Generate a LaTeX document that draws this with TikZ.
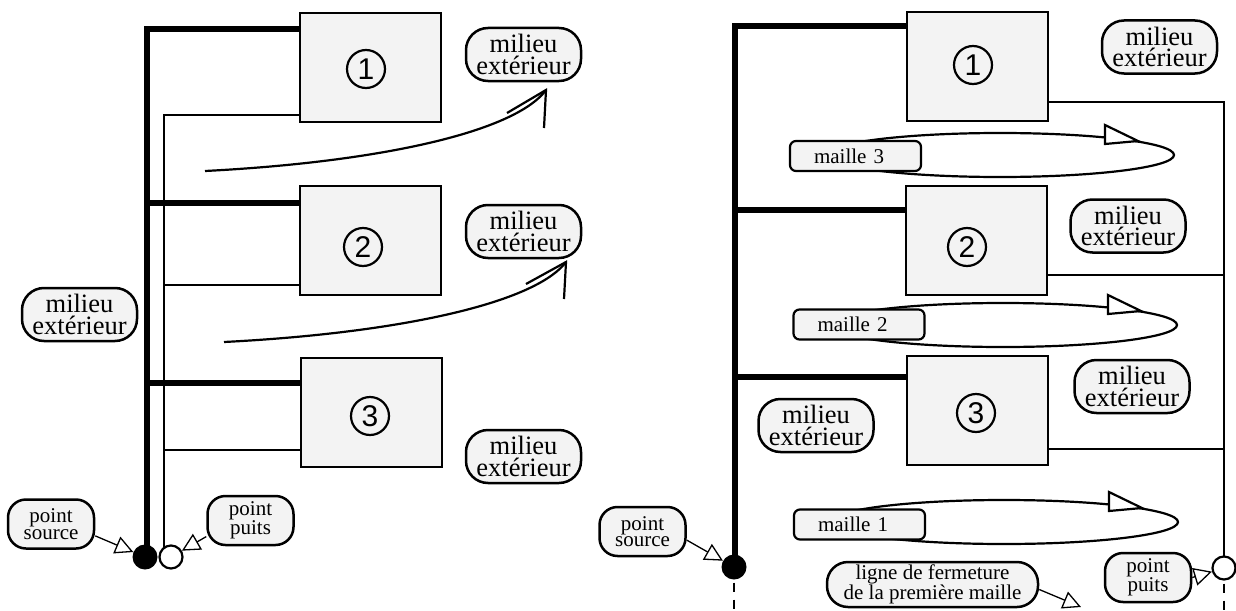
\documentclass[tikz,border=0pt]{standalone}
\usepackage{fontspec}
\setmainfont{Liberation Serif}
\newfontfamily\digitfont{Liberation Sans}
\usetikzlibrary{arrows.meta,backgrounds}
\definecolor{boxfill}{RGB}{243,243,243}
\begin{document}
\begin{tikzpicture}[x=1pt,y=-1pt,
 blk/.style={draw,line width=2.5pt,fill=boxfill,minimum width=141pt,minimum height=109pt,inner sep=0pt,outer sep=0pt,anchor=north west},
 num/.style={circle,draw,line width=2.2pt,minimum size=38pt,inner sep=0pt,font=\digitfont\fontsize{30}{30}\selectfont},
 env/.style={draw,line width=2.5pt,fill=boxfill,rounded corners=22pt,minimum width=115pt,minimum height=53pt,inner sep=0pt,align=center,font=\fontsize{26.5}{21.5}\selectfont},
 ptl/.style={draw,line width=2.5pt,fill=boxfill,rounded corners=18pt,minimum width=86pt,minimum height=49pt,inner sep=0pt,align=center,font=\fontsize{21}{16.5}\selectfont},
 mesh/.style={draw,line width=2.2pt,fill=boxfill,rounded corners=6pt,minimum height=30pt,inner xsep=24pt,inner ysep=0pt,text width=83pt,align=left,font=\fontsize{21}{21}\selectfont},
 srcdot/.style={circle,fill=black,minimum size=25pt,inner sep=0pt},
 snkdot/.style={circle,draw,fill=white,line width=2.2pt,minimum size=23pt,inner sep=0pt},
 heavy/.style={line width=5.5pt},
 light/.style={line width=2.2pt},
 ptr/.style={line width=1.3pt,-{Triangle[fill=white,length=18pt,width=18pt]}},
 curv/.style={line width=2.2pt},
 loopln/.style={line width=2.2pt},
 tri/.style={line width=2.2pt,fill=white,line join=miter},
 dsh/.style={line width=1.3pt,dash pattern=on 9pt off 8pt,dash phase=14pt}
]
\useasboundingbox (0,0) rectangle (1236,610);

% ---------------- left panel ----------------
\node[blk] (a1) at (300,13) {};
\node[blk] (a2) at (300,186) {};
\node[blk] (a3) at (301,358) {};
\node[num] (n1) at (366,69) {1};
\node[num] (n2) at (363,247) {2};
\node[num] (n3) at (370,416) {3};

\node[env] (m1) at (523.5,54.5) {milieu\\extérieur};
\node[env] (m2) at (523.5,231.5) {milieu\\extérieur};
\node[env] (m3) at (523.5,456.5) {milieu\\extérieur};
\node[env] (m4) at (79.5,314.5) {milieu\\extérieur};

\node[srcdot] (s) at (145,557) {};
\node[snkdot] (k) at (171,557) {};
\node[ptl] (pl) at (51,524) {point\\source};
\node[ptl] (pk) at (250.5,520.5) {point\\puits};

\coordinate (t1) at (147,29);
\coordinate (t2) at (147,203);
\coordinate (t3) at (147,383);
\coordinate (u1) at (164,115);
\coordinate (u2) at (164,285);
\coordinate (u3) at (164,450);

% ---------------- right panel ----------------
\node[blk] (b1) at (907,12) {};
\node[blk] (b2) at (906,186) {};
\node[blk] (b3) at (907,356) {};
\node[num] (r1) at (973,65) {1};
\node[num] (r2) at (967,247) {2};
\node[num] (r3) at (976,413) {3};

\node[env] (q1) at (1159.5,47) {milieu\\extérieur};
\node[env] (q2) at (1128,226) {milieu\\extérieur};
\node[env] (q3) at (1132,386.5) {milieu\\extérieur};
\node[env] (q4) at (816,425.5) {milieu\\extérieur};

\node[mesh] (l3) at (855.5,156) {maille 3};
\node[mesh] (l2) at (859,324.5) {maille 2};
\node[mesh] (l1) at (859.5,524.5) {maille 1};

\node[srcdot] (s2) at (734,567) {};
\node[snkdot] (k2) at (1224,568) {};
\node[ptl] (pr) at (642.5,531.5) {point\\source};
\node[ptl] (pk2) at (1148,577.5) {point\\puits};
\node[ptl,minimum width=211pt,minimum height=45pt,rounded corners=21pt,font=\fontsize{21}{19.5}\selectfont] (lf) at (932.5,584.5) {ligne de fermeture\\de la première maille};

\coordinate (w1) at (735,26);
\coordinate (w2) at (735,210);
\coordinate (w3) at (735,377);
\coordinate (v1) at (1224,102);
\coordinate (v2) at (1224,275);
\coordinate (v3) at (1224,449);
\coordinate (e1) at (734,610);
\coordinate (e2) at (1224,610);
\coordinate (lfend) at (1081,607);

\begin{scope}[on background layer]
  % left
  \draw[heavy] (a1.west |- t1) -- (t1) -- (t1 |- s.center);
  \draw[heavy] (t2) -- (a2.west |- t2);
  \draw[heavy] (t3) -- (a3.west |- t3);
  \draw[light] (a1.west |- u1) -- (u1) -- (u1 |- k.center);
  \draw[light] (u2) -- (a2.west |- u2);
  \draw[light] (u3) -- (a3.west |- u3);
  % right
  \draw[heavy] (b1.west |- w1) -- (w1) -- (w1 |- s2.center);
  \draw[heavy] (w2) -- (b2.west |- w2);
  \draw[heavy] (w3) -- (b3.west |- w3);
  \draw[light] (b1.east |- v1) -- (v1) -- (v1 |- k2.center);
  \draw[light] (b2.east |- v2) -- (v2);
  \draw[light] (b3.east |- v3) -- (v3);
  % loops
  \draw[loopln] (1000,155) ellipse [x radius=174pt, y radius=22pt];
  \draw[loopln] (1003,325) ellipse [x radius=174pt, y radius=22pt];
  \draw[loopln] (1004,522) ellipse [x radius=174pt, y radius=22pt];
\end{scope}

\draw[tri] (1105,125) -- (1105,144) -- (1138,141) -- cycle;
\draw[tri] (1108,295) -- (1108,314) -- (1141,311) -- cycle;
\draw[tri] (1109,492) -- (1109,511) -- (1142,508) -- cycle;

\draw[dsh] (s2.south) -- (e1);
\draw[dsh] (k2.south) -- (e2);

% pointers
\draw[ptr] (pl.-15) -- (s);
\draw[ptr] (pk.200) -- (k);
\draw[ptr] (pr.-11) -- (s2);
\draw[ptr] (pk2.east) -- (k2);
\draw[ptr] ([yshift=-5pt]lf.east) -- (lfend);

% exchange curves (left)
\coordinate (c1s) at (205,171);
\coordinate (c1e) at (546,90);
\draw[curv] (c1s) .. controls (380,162) and (515,132) .. (c1e);
\draw[curv] (507,113) -- (c1e) -- (544,128);
\coordinate (c2s) at (224,342);
\coordinate (c2e) at (566,262);
\draw[curv] (c2s) .. controls (400,333) and (535,303) .. (c2e);
\draw[curv] (526,284) -- (c2e) -- (564,299);
\end{tikzpicture}
\end{document}
